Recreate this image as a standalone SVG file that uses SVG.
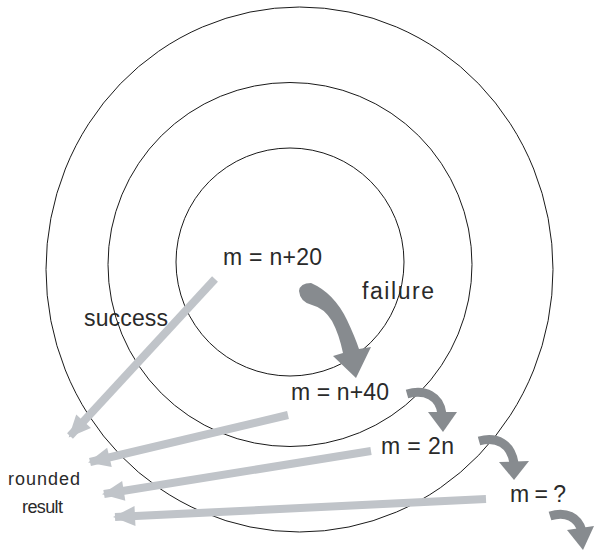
<svg xmlns="http://www.w3.org/2000/svg" width="594" height="553" viewBox="0 0 594 553">
<style>
.ring{fill:none;stroke:#1a1a1a;stroke-width:1}
.lbl{font-family:"Liberation Sans",Arial,sans-serif;fill:#2a2a2a}
.big{font-size:23px}
.sm{font-size:18px}
.bar{stroke:#c0c4c9;stroke-width:8;fill:none}
.dark{fill:#878b8f}
.darks{stroke:#878b8f;stroke-width:9;fill:none}
</style>
<defs>
<marker id="ah" markerUnits="userSpaceOnUse" markerWidth="24" markerHeight="24" viewBox="0 -12 22 24" refX="20" refY="0" orient="auto">
<path d="M0,-10 L22,0 L0,10 Z" fill="#c0c4c9"/>
</marker>
</defs>
<rect width="594" height="553" fill="#ffffff"/>
<g id="rings">
<ellipse class="ring" cx="299.5" cy="269.5" rx="253.5" ry="262.5"/>
<circle class="ring" cx="290" cy="264.5" r="182"/>
<circle class="ring" cx="290" cy="262" r="114"/>
</g>
<g id="connectors">
<line class="bar" x1="215" y1="279" x2="70" y2="436" marker-end="url(#ah)"/>
<line class="bar" x1="288" y1="415" x2="90" y2="462" marker-end="url(#ah)"/>
<line class="bar" x1="371" y1="451" x2="104" y2="494" marker-end="url(#ah)"/>
<line class="bar" x1="486" y1="499" x2="115" y2="517" marker-end="url(#ah)"/>
<path class="dark" d="M299,291 Q300,283 311,283 Q334,293 347,320 Q355,337 359,349 L371,347 L356,378 L333,356 L343,353 Q339,334 332,321 Q324,308 312,305 Q300,302 299,291 Z"/>
<path class="darks" d="M407,394 C425,389 440,396 442,414"/>
<polygon class="dark" points="428,412 457,412 443,432"/>
<path class="darks" d="M479,441 C497,436 511,444 514,463"/>
<polygon class="dark" points="499,462 529,461 514,480"/>
<path class="darks" d="M550,516 C566,511 578,517 582,531"/>
<polygon class="dark" points="567,530 594,526 583,550"/>
</g>
<g id="n20"><text class="lbl big" x="223" y="265" textLength="99">m = n+20</text></g>
<g id="failure"><text class="lbl big" x="362" y="299" textLength="72">failure</text></g>
<g id="success"><text class="lbl big" x="84" y="326" textLength="84">success</text></g>
<g id="n40"><text class="lbl big" x="291" y="400" textLength="98">m = n+40</text></g>
<g id="n2"><text class="lbl big" x="381" y="454" textLength="73">m = 2n</text></g>
<g id="nq"><text class="lbl big" x="510" y="502" textLength="56">m = ?</text></g>
<g id="rounded"><text class="lbl sm" x="8" y="485" textLength="72">rounded</text>
<text class="lbl sm" x="22" y="513" textLength="41">result</text></g>
</svg>
